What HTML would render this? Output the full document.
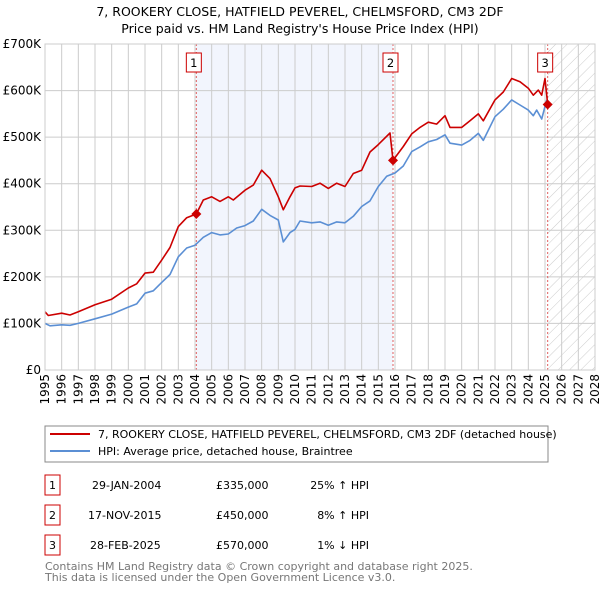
<!DOCTYPE html>
<html><head><meta charset="utf-8"><style>
body{margin:0;background:#fff;font-family:"Liberation Sans","DejaVu Sans",sans-serif;}
svg text{font-family:"DejaVu Sans","Liberation Sans",sans-serif;}
</style></head><body>
<svg width="600" height="590" viewBox="0 0 600 590" id="svg">
<defs>
<pattern id="hatch" width="8" height="8" patternUnits="userSpaceOnUse" patternTransform="rotate(45)">
<line x1="0" y1="0" x2="0" y2="8" stroke="#cccccc" stroke-width="1"/></pattern>
</defs>
<text x="300" y="16" text-anchor="middle" font-size="12.5">7, ROOKERY CLOSE, HATFIELD PEVEREL, CHELMSFORD, CM3 2DF</text>
<text x="300" y="33" text-anchor="middle" font-size="12.5">Price paid vs. HM Land Registry's House Price Index (HPI)</text>
<g id="plot"></g>
<rect x="45" y="426" width="503" height="36" fill="#fff" stroke="#888"/>
<line x1="50" y1="434" x2="90" y2="434" stroke="#cc0000" stroke-width="2"/>
<text x="98" y="438" font-size="11">7, ROOKERY CLOSE, HATFIELD PEVEREL, CHELMSFORD, CM3 2DF (detached house)</text>
<line x1="50" y1="451" x2="90" y2="451" stroke="#5b8fd4" stroke-width="2"/>
<text x="98" y="455" font-size="11">HPI: Average price, detached house, Braintree</text>
<g font-size="11">
<rect x="45" y="475" width="15" height="20" fill="none" stroke="#cc0000"/><text x="52.5" y="489" text-anchor="middle">1</text>
<text x="92" y="489">29-JAN-2004</text><text x="216" y="489">£335,000</text><text x="369" y="489" text-anchor="end">25% ↑ HPI</text>
<rect x="45" y="505" width="15" height="20" fill="none" stroke="#cc0000"/><text x="52.5" y="519" text-anchor="middle">2</text>
<text x="88" y="519">17-NOV-2015</text><text x="216" y="519">£450,000</text><text x="369" y="519" text-anchor="end">8% ↑ HPI</text>
<rect x="45" y="535" width="15" height="20" fill="none" stroke="#cc0000"/><text x="52.5" y="549" text-anchor="middle">3</text>
<text x="90" y="549">28-FEB-2025</text><text x="216" y="549">£570,000</text><text x="369" y="549" text-anchor="end">1% ↓ HPI</text>
</g>
<text x="45" y="570" font-size="11" fill="#777">Contains HM Land Registry data © Crown copyright and database right 2025.</text>
<text x="45" y="581" font-size="11" fill="#777">This data is licensed under the Open Government Licence v3.0.</text>
</svg>
<script>
const years=[1995,1996,1997,1998,1999,2000,2001,2002,2003,2004,2005,2006,2007,2008,2009,2010,2011,2012,2013,2014,2015,2016,2017,2018,2019,2020,2021,2022,2023,2024,2025,2026,2027,2028];
const yTicks=[0,100,200,300,400,500,600,700];
const yTickLabels=["£0","£100K","£200K","£300K","£400K","£500K","£600K","£700K"];
const hpiT=[1995,1995.3,1996,1996.5,1997,1998,1999,2000,2000.5,2001,2001.5,2002,2002.5,2003,2003.5,2004,2004.5,2005,2005.5,2006,2006.5,2007,2007.5,2008,2008.5,2009,2009.3,2009.7,2010,2010.3,2011,2011.5,2012,2012.5,2013,2013.5,2014,2014.5,2015,2015.5,2016,2016.5,2017,2017.5,2018,2018.5,2019,2019.3,2020,2020.5,2021,2021.3,2022,2022.5,2023,2023.5,2024,2024.3,2024.5,2024.8,2025.1];
const hpiV=[100,95,97,96,100,110,120,135,142,165,170,188,205,243,262,268,285,295,290,292,305,310,320,345,332,322,275,295,302,320,316,318,311,318,316,330,351,363,394,416,423,438,469,479,490,495,505,487,483,493,508,493,544,560,580,569,558,546,558,539,580];
const redT=[1995,1995.2,1996,1996.5,1997,1998,1999,2000,2000.5,2001,2001.5,2002,2002.5,2003,2003.5,2004.08,2004.5,2005,2005.5,2006,2006.3,2007,2007.5,2008,2008.5,2009,2009.3,2009.7,2010,2010.3,2011,2011.5,2012,2012.5,2013,2013.5,2014,2014.5,2015,2015.7,2015.88,2016.5,2017,2017.5,2018,2018.5,2019,2019.3,2020,2020.5,2021,2021.3,2022,2022.5,2023,2023.5,2024,2024.3,2024.6,2024.8,2025.0,2025.16];
const redV=[125,117,122,118,125,140,152,176,185,208,210,236,263,308,327,335,365,372,362,372,365,386,397,429,411,372,344,372,391,395,394,401,390,401,394,422,429,468,484,509,450,480,507,521,532,528,546,521,521,535,550,535,580,597,626,619,605,590,601,590,626,570];
const sales=[{n:"1",t:2004.08,v:335},{n:"2",t:2015.88,v:450},{n:"3",t:2025.16,v:570}];
const X0=45,X1=595,Y0=370,Y1=44,T0=1995,T1=2028,VMAX=700;
function xs(t){return X0+(t-T0)/(T1-T0)*(X1-X0);}
function ys(v){return Y0-v/VMAX*(Y0-Y1);}
const NS="http://www.w3.org/2000/svg";
const g=document.getElementById('plot');
function mk(tag,attrs,parent){const e=document.createElementNS(NS,tag);for(const k in attrs)e.setAttribute(k,attrs[k]);(parent||g).appendChild(e);return e;}
let r=mk('rect',{x:xs(sales[0].t),y:Y1,width:xs(sales[1].t)-xs(sales[0].t),height:Y0-Y1,fill:'#f2f5fd'});


r=mk('rect',{x:xs(sales[2].t),y:Y1,width:X1-xs(sales[2].t),height:Y0-Y1,fill:'url(#hatch)'});


years.forEach(y=>{const x=xs(y);
 const l=mk('line',{x1:x,y1:Y1,x2:x,y2:Y0,stroke:'#cccccc','stroke-width':1});
 
 
 const t=mk('text',{x:0,y:0,'font-size':12,'text-anchor':'end',transform:`translate(${x+4},${Y0+4}) rotate(-90)`});
 t.textContent=y;
 
 
});
yTicks.forEach((v,i)=>{const y=ys(v);
 const l=mk('line',{x1:X0,y1:y,x2:X1,y2:y,stroke:'#cccccc','stroke-width':1});
 
 
 const t=mk('text',{x:X0-4,y:y+4,'font-size':12,'text-anchor':'end'});
 t.textContent=yTickLabels[i];
 
 
});
sales.forEach(s=>{const x=xs(s.t);
 const l=mk('line',{x1:x,y1:Y1,x2:x,y2:Y0,stroke:'#e06060','stroke-width':1,'stroke-dasharray':'2,2'});
 
 
});
function path(T,V,col,name){const d=T.map((t,i)=>(i?'L':'M')+xs(t).toFixed(1)+','+ys(V[i]).toFixed(1)).join('');
 const p=mk('path',{d:d,fill:'none',stroke:col,'stroke-width':1.6,'stroke-linejoin':'round'});
 
 }
path(hpiT,hpiV,'#5b8fd4','hpi-line');
path(redT,redV,'#cc0000','price-paid-line');
sales.forEach(s=>{const x=xs(s.t),y=ys(s.v);
 const d=mk('path',{d:`M${x},${y-5}L${x+5},${y}L${x},${y+5}L${x-5},${y}Z`,fill:'#cc0000'});
 
 
 const b=mk('rect',{x:x-10,y:53,width:15,height:19,fill:'#fff',stroke:'#cc0000'});
 
 
 const t=mk('text',{x:x-2.5,y:67,'font-size':11.5,'text-anchor':'middle'});
 t.textContent=s.n;
 
 
});
const ax=mk('rect',{x:X0,y:Y1,width:X1-X0,height:Y0-Y1,fill:'none',stroke:'#cccccc'});


</script>
</body></html>
